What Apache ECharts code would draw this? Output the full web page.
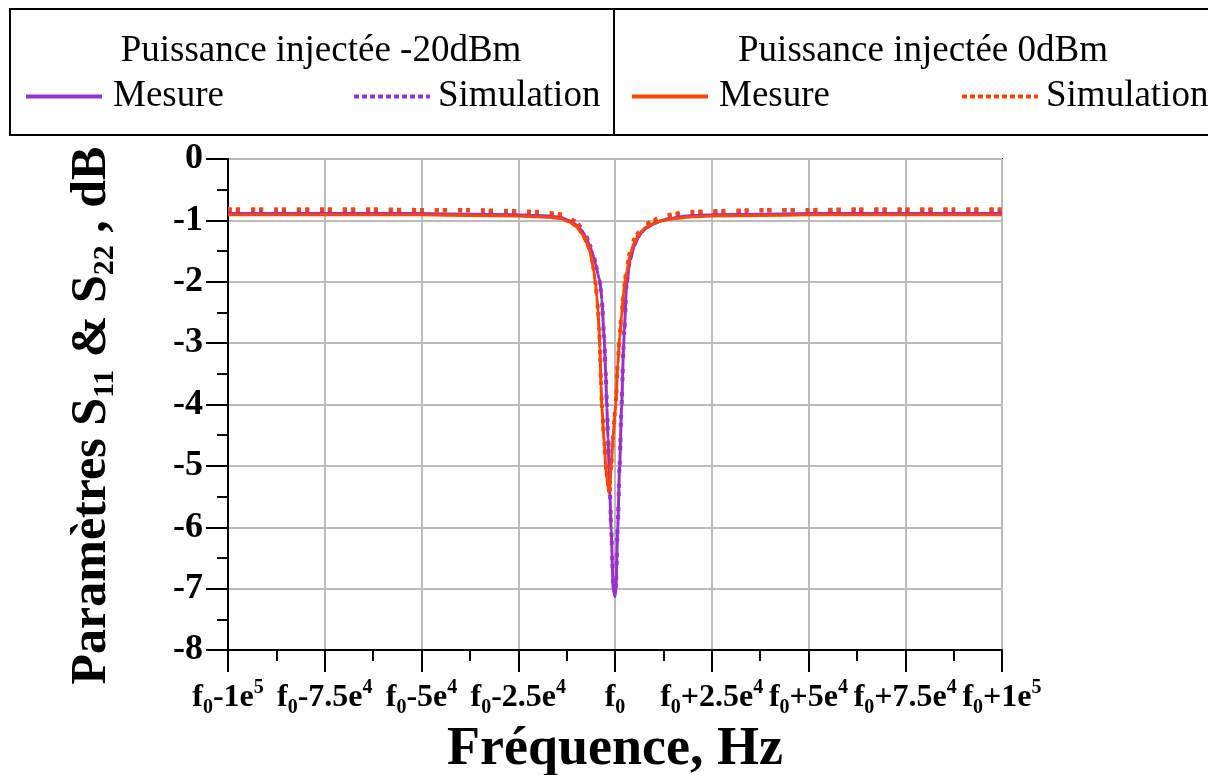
<!DOCTYPE html>
<html lang="fr" style="height: 100%">
<head>
  <meta charset="utf-8">
</head>
<body style="height: 100%; margin: 0">
  <div id="container" style="height: 100%"></div>

  <script type="text/javascript" src="https://fastly.jsdelivr.net/npm/echarts@6.0.0/dist/echarts.min.js"></script>

  <script type="text/javascript">
    // ecart de frequence par rapport a f0 (Hz)
    var freqOffset = [-100000, -87500, -75000, -62500, -50000, -37500, -25000, -20000, -17000, -14000,
      -12000, -10000, -8500, -7500, -6500, -6000, -5500, -5000, -4700, -4400,
      -4100, -3900, -3600, -3400, -2800, -2400, -2100, -1800, -1550, -1300,
      -1000, -450, 0, 250, 700, 1200, 1700, 2200, 2400, 3000,
      3900, 5000, 6000, 7000, 8000, 10000, 12000, 14000, 17000, 20000,
      25000, 37500, 50000, 62500, 75000, 87500, 100000];

    // puissance injectee -20dBm
    var mesure20 = [-0.89, -0.89, -0.89, -0.89, -0.89, -0.90, -0.91, -0.92, -0.93, -0.95,
      -1.00, -1.07, -1.17, -1.28, -1.42, -1.50, -1.60, -1.72, -1.80, -1.88,
      -1.95, -2.00, -2.15, -2.30, -2.90, -3.50, -4.05, -4.55, -5.00, -5.50,
      -6.05, -7.00, -7.13, -7.00, -6.00, -5.00, -4.05, -3.10, -2.80, -2.05,
      -1.65, -1.42, -1.28, -1.19, -1.13, -1.06, -1.00, -0.97, -0.94, -0.92,
      -0.91, -0.90, -0.89, -0.89, -0.89, -0.89, -0.89];
    var simulation20 = [-0.83, -0.83, -0.83, -0.83, -0.84, -0.84, -0.86, -0.87, -0.89, -0.91,
      -0.96, -1.03, -1.13, -1.25, -1.40, -1.48, -1.58, -1.70, -1.78, -1.86,
      -1.94, -2.00, -2.15, -2.30, -2.90, -3.48, -4.00, -4.50, -4.98, -5.45,
      -6.00, -6.95, -7.10, -6.95, -5.98, -4.98, -4.00, -3.08, -2.80, -2.02,
      -1.62, -1.38, -1.24, -1.15, -1.09, -1.01, -0.96, -0.93, -0.90, -0.88,
      -0.86, -0.84, -0.84, -0.83, -0.83, -0.83, -0.83];

    // puissance injectee 0dBm
    var mesure0 = [-0.91, -0.91, -0.91, -0.91, -0.91, -0.92, -0.93, -0.94, -0.95, -0.97,
      -1.02, -1.10, -1.22, -1.35, -1.50, -1.65, -1.82, -2.05, -2.25, -2.48,
      -2.80, -3.08, -3.70, -4.05, -4.60, -5.00, -5.20, -5.35, -5.44, -5.30,
      -5.00, -4.50, -4.15, -3.95, -3.35, -2.90, -2.55, -2.20, -2.08, -1.85,
      -1.56, -1.36, -1.25, -1.17, -1.11, -1.05, -1.01, -0.98, -0.96, -0.94,
      -0.93, -0.92, -0.91, -0.91, -0.91, -0.91, -0.91];
    var simulation0 = [-0.82, -0.82, -0.82, -0.82, -0.83, -0.83, -0.85, -0.86, -0.88, -0.90,
      -0.95, -1.03, -1.15, -1.30, -1.47, -1.62, -1.80, -2.03, -2.23, -2.46,
      -2.77, -3.05, -3.65, -4.00, -4.58, -4.97, -5.17, -5.32, -5.40, -5.28,
      -5.00, -4.50, -4.12, -3.92, -3.32, -2.88, -2.52, -2.17, -2.05, -1.80,
      -1.50, -1.30, -1.20, -1.12, -1.06, -0.99, -0.94, -0.91, -0.88, -0.86,
      -0.85, -0.83, -0.83, -0.82, -0.82, -0.82, -0.82];

    var xTickLabels = ['f0-1e5', 'f0-7.5e4', 'f0-5e4', 'f0-2.5e4', 'f0', 'f0+2.5e4', 'f0+5e4', 'f0+7.5e4', 'f0+1e5'];

    var FONT = 'Liberation Serif';
    var purple = '#9932CC';
    var orange = '#FF4500';

    function pairs(vals) {
      return freqOffset.map(function (f, i) { return [f, vals[i]]; });
    }

    // f0-7.5e4 -> f{0}-7.5e{4} en texte riche
    function xLabel(v) {
      var s = xTickLabels[Math.round((v + 100000) / 25000)];
      if (!s) return '';
      if (s === 'f0') return '{a|f}{s|0}';
      return '{a|f}{s|0}{a|' + s.slice(2, -1) + '}{p|' + s.slice(-1) + '}';
    }

    var dom = document.getElementById('container');
    var myChart = echarts.init(dom, null, { renderer: 'canvas' });

    var legendCommon = {
      orient: 'horizontal',
      padding: 0,
      top: 78,
      itemWidth: 76,
      itemHeight: 1,
      selectedMode: false,
      formatter: function (n) { return n.split(' ')[0]; },
      itemStyle: { opacity: 0 },
      lineStyle: { width: 4 },
      textStyle: { fontSize: 37, fontFamily: FONT, color: '#000', padding: [0, 0, 0, 6] }
    };
    var dashLegend = {
      lineStyle: { width: 4, type: [5, 3] },
      textStyle: { fontSize: 37, fontFamily: FONT, color: '#000', padding: [0, 0, 0, 3] }
    };

    var option = {
      animation: false,
      backgroundColor: '#fff',
      graphic: [
        { type: 'rect', shape: { x: 10, y: 9, width: 604, height: 126 }, style: { fill: 'none', stroke: '#000', lineWidth: 2 } },
        { type: 'rect', shape: { x: 614, y: 9, width: 610, height: 126 }, style: { fill: 'none', stroke: '#000', lineWidth: 2 } },
        { type: 'text', x: 321, y: 51, style: { text: 'Puissance injectée -20dBm', font: '37px "Liberation Serif"', fill: '#000', textAlign: 'center', textVerticalAlign: 'middle' } },
        { type: 'text', x: 923, y: 51, style: { text: 'Puissance injectée 0dBm', font: '37px "Liberation Serif"', fill: '#000', textAlign: 'center', textVerticalAlign: 'middle' } }
      ],
      legend: [
        Object.assign({}, legendCommon, { data: ['Mesure -20dBm'], left: 24 }),
        Object.assign({}, legendCommon, dashLegend, { data: ['Simulation -20dBm'], left: 352 }),
        Object.assign({}, legendCommon, { data: ['Mesure 0dBm'], left: 630 }),
        Object.assign({}, legendCommon, dashLegend, { data: ['Simulation 0dBm'], left: 960 })
      ],
      grid: {
        left: 228,
        right: 206,
        top: 159,
        bottom: 125,
        outerBoundsMode: 'none',
        show: true,
        borderColor: '#000',
        borderWidth: 2,
        backgroundColor: 'transparent'
      },
      xAxis: {
        type: 'value',
        min: -100000,
        max: 100000,
        interval: 25000,
        axisLine: { onZero: false, lineStyle: { color: '#000', width: 2 } },
        axisTick: { length: 22, lineStyle: { color: '#000', width: 2 } },
        minorTick: { show: true, splitNumber: 2, length: 11, lineStyle: { color: '#000', width: 2 } },
        splitLine: { lineStyle: { color: '#bbb', width: 2 } },
        axisLabel: {
          margin: 28,
          formatter: xLabel,
          rich: {
            a: { fontSize: 32, fontWeight: 'bold', fontFamily: FONT, color: '#000', lineHeight: 40 },
            s: { fontSize: 20, fontWeight: 'bold', fontFamily: FONT, color: '#000', lineHeight: 16, verticalAlign: 'bottom' },
            p: { fontSize: 20, fontWeight: 'bold', fontFamily: FONT, color: '#000', lineHeight: 16, verticalAlign: 'top' }
          }
        },
        name: 'Fréquence, Hz',
        nameLocation: 'middle',
        nameGap: 68,
        nameTextStyle: { fontSize: 54, fontWeight: 'bold', fontFamily: FONT, color: '#000' }
      },
      yAxis: {
        type: 'value',
        min: -8,
        max: 0,
        interval: 1,
        axisLine: { onZero: false, lineStyle: { color: '#000', width: 2 } },
        axisTick: { length: 22, lineStyle: { color: '#000', width: 2 } },
        minorTick: { show: true, splitNumber: 2, length: 11, lineStyle: { color: '#000', width: 2 } },
        splitLine: { lineStyle: { color: '#bbb', width: 2 } },
        axisLabel: { margin: 25, fontSize: 36, fontWeight: 'bold', fontFamily: FONT, color: '#000' },
        name: '{b|Paramètres S}{s|11}{b| & S}{s|22}{b| , dB}',
        nameLocation: 'middle',
        nameGap: 108,
        nameTextStyle: {
          padding: [0, 22, 0, 0],
          rich: {
            b: { fontSize: 50, fontWeight: 'bold', fontFamily: FONT, color: '#000', lineHeight: 56 },
            s: { fontSize: 30, fontWeight: 'bold', fontFamily: FONT, color: '#000', lineHeight: 24, verticalAlign: 'bottom' }
          }
        }
      },
      series: [
        {
          name: 'Mesure -20dBm', type: 'line', data: pairs(mesure20), symbol: 'none',
          smooth: 0.2, smoothMonotone: 'x', z: 2,
          lineStyle: { color: purple, width: 3 }, itemStyle: { color: purple }
        },
        {
          name: 'Simulation -20dBm', type: 'line', data: pairs(simulation20), symbol: 'none',
          smooth: 0.2, smoothMonotone: 'x', z: 3,
          lineStyle: { color: purple, width: 4, type: [4, 4, 4, 11] }, itemStyle: { color: purple }
        },
        {
          name: 'Mesure 0dBm', type: 'line', data: pairs(mesure0), symbol: 'none',
          smooth: 0.2, smoothMonotone: 'x', z: 4,
          lineStyle: { color: orange, width: 3 }, itemStyle: { color: orange }
        },
        {
          name: 'Simulation 0dBm', type: 'line', data: pairs(simulation0), symbol: 'none',
          smooth: 0.2, smoothMonotone: 'x', z: 5,
          lineStyle: { color: orange, width: 4, type: [4, 4, 4, 11] }, itemStyle: { color: orange }
        }
      ]
    };

    myChart.setOption(option);
    window.addEventListener('resize', myChart.resize);
  </script>
</body>
</html>
